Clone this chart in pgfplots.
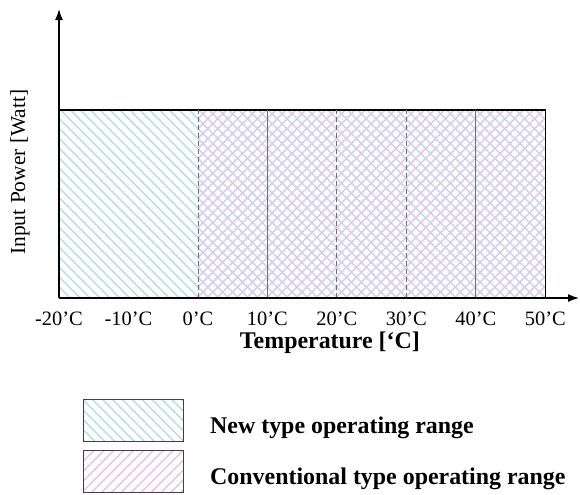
\documentclass[border=0pt]{standalone}
\usepackage{fontspec}
\setmainfont{Liberation Serif}
\usepackage{pgfplots}
\pgfplotsset{compat=1.18}
\usetikzlibrary{patterns.meta,arrows.meta}
\definecolor{newc}{RGB}{185,225,228}
\definecolor{convc}{RGB}{235,195,240}
\definecolor{divc}{RGB}{110,110,110}

\begin{document}
\fontsize{20}{24}\selectfont
\begin{tikzpicture}
% fix page size to the reference (580 x 495 px, 1 px = 1 bp)
\path[use as bounding box] (-59bp,-197bp) rectangle (521bp,298bp);
\begin{axis}[
  at={(0,0)}, anchor=south west,
  scale only axis,
  width=521bp, height=290bp,
  xmin=-20, xmax=55,
  ymin=0, ymax=290,
  axis lines=left,
  axis on top,
  axis line style={line width=2.5bp, -{Latex[length=12bp,width=8bp]}},
  xtick={-20,-10,0,10,20,30,40,50},
  xticklabels={-20’C,-10’C,0’C,10’C,20’C,30’C,40’C,50’C},
  ytick=\empty,
  major tick length=0pt,
  tick label style={font=\fontsize{20.5}{24}\selectfont},
  xticklabel style={yshift=-7bp},
  xlabel={Temperature [‘C]},
  ylabel={Input Power [Watt]},
  xlabel style={at={(axis description cs:0.52,-0.155)}, anchor=center,
    font=\bfseries\fontsize{24}{28}\selectfont},
  ylabel style={at={(axis description cs:-0.075,0.434)}, anchor=center,
    font=\fontsize{21.5}{24}\selectfont},
  legend style={at={(axis description cs:0.0461,-0.3483)}, anchor=north west,
    draw=none, fill=none, inner sep=0pt, row sep=8bp,
    font=\bfseries\fontsize{24}{28}\selectfont,
    /tikz/every odd column/.style={column sep=24bp}},
  legend cell align=left,
  legend image code/.code={%
    \draw[#1, draw=black!75, line width=1bp] (0bp,-15bp) rectangle (100bp,27bp);},
]
% new type operating range: -20 to 50
\addplot[draw=none, pattern={Lines[angle=-45,distance=7bp,line width=1.6bp]}, pattern color=newc]
  coordinates {(-20,188) (50,188)} \closedcycle;
\addlegendentry{New type operating range}
% conventional type operating range: 0 to 50
\addplot[draw=none, pattern={Lines[angle=45,distance=7bp,line width=1.6bp]}, pattern color=convc]
  coordinates {(0,188) (50,188)} \closedcycle;
\addlegendentry{Conventional type operating range}

% outline of the range
\addplot[forget plot, black, line width=1.3bp] coordinates {(-20,188) (50,188) (50,0)};
% division lines
\addplot[forget plot, divc, line width=0.8bp, dash pattern=on 5bp off 3bp] coordinates {(0,0) (0,188)};
\addplot[forget plot, divc, line width=0.8bp] coordinates {(10,0) (10,188)};
\addplot[forget plot, divc, line width=0.8bp, dash pattern=on 5bp off 3bp] coordinates {(20,0) (20,188)};
\addplot[forget plot, divc, line width=0.8bp, dash pattern=on 5bp off 3bp] coordinates {(30,0) (30,188)};
\addplot[forget plot, divc, line width=0.8bp] coordinates {(40,0) (40,188)};
\end{axis}
\end{tikzpicture}
\end{document}
